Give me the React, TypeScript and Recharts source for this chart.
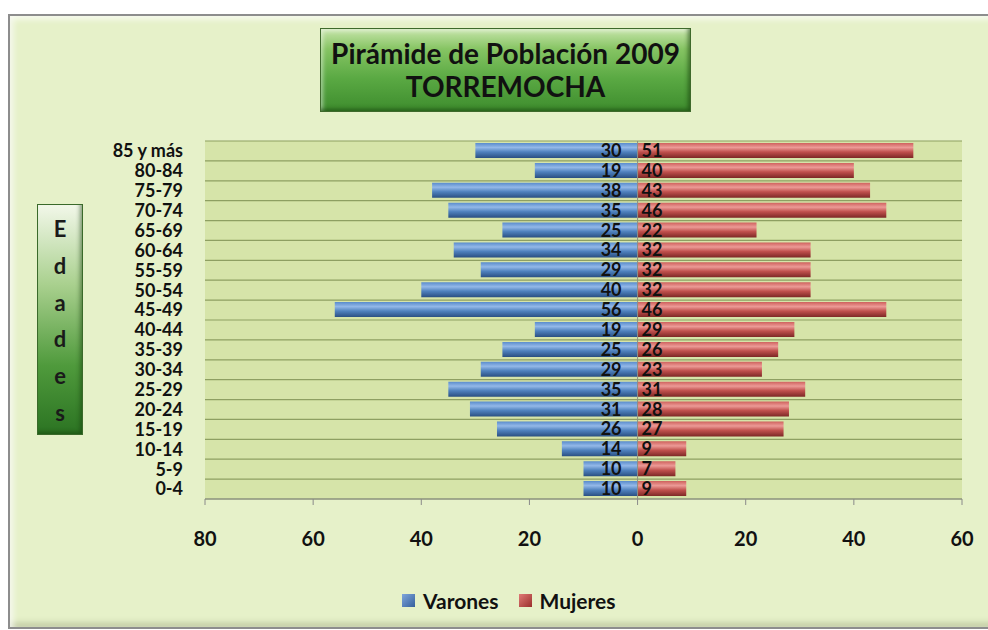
import { BarChart, Bar, XAxis, YAxis, CartesianGrid, LabelList, ReferenceLine } from "recharts";

const ageGroups = [
  "85 y más", "80-84", "75-79", "70-74", "65-69", "60-64", "55-59", "50-54", "45-49",
  "40-44", "35-39", "30-34", "25-29", "20-24", "15-19", "10-14", "5-9", "0-4",
];
const varones = [30, 19, 38, 35, 25, 34, 29, 40, 56, 19, 25, 29, 35, 31, 26, 14, 10, 10];
const mujeres = [51, 40, 43, 46, 22, 32, 32, 32, 46, 29, 26, 23, 31, 28, 27, 9, 7, 9];
const xTicks = [-80, -60, -40, -20, 0, 20, 40, 60];

const data = ageGroups.map((age, i) => ({ age, varones: -varones[i], mujeres: mujeres[i] }));

const FONT = "Lato, 'Open Sans', sans-serif";

const VaronLabel = (props: any) => {
  const { x, y, width, height, value } = props;
  const right = Math.max(x, x + width);
  return (
    <text x={right - 16} y={y + height / 2} dy="0.36em" textAnchor="end"
      fontFamily={FONT} fontWeight={700} fontSize={18} fill="#111">
      {Math.abs(value)}
    </text>
  );
};

const MujerLabel = (props: any) => {
  const { x, y, width, height, value } = props;
  const left = Math.min(x, x + width);
  return (
    <text x={left + 4} y={y + height / 2} dy="0.36em" textAnchor="start"
      fontFamily={FONT} fontWeight={700} fontSize={18} fill="#111">
      {value}
    </text>
  );
};

export default function App() {
  return (
    <div style={{ position: "absolute", left: 0, top: 0, width: 988, height: 630, background: "#fff", overflow: "hidden", fontFamily: FONT }}>
      <div style={{
        position: "absolute", left: 8, top: 14, width: 1000, height: 611,
        border: "2px solid #8d8d8d", background: "#e6f1c9",
        boxShadow: "inset 3px 3px 6px rgba(255,255,255,0.8), inset -2px -4px 6px rgba(120,130,90,0.35)",
      }} />

      <div style={{
        position: "absolute", left: 320, top: 28, width: 371, height: 84,
        background: "linear-gradient(to bottom, #c9e6ad 0%, #86c463 25%, #5aa943 60%, #3d8c2d 100%)",
        boxShadow: "inset 0 0 0 1px #3f6a2c, inset -3px -3px 4px rgba(20,60,10,0.6), inset 3px 3px 4px rgba(255,255,255,0.5)",
        textAlign: "center", fontWeight: 700, fontSize: 28, lineHeight: "33px", color: "#111",
        paddingTop: 9, boxSizing: "border-box", whiteSpace: "nowrap",
      }}>
        <div>Pirámide de Población 2009</div>
        <div>TORREMOCHA</div>
      </div>

      <div style={{
        position: "absolute", left: 37, top: 204, width: 46, height: 231,
        background: "linear-gradient(to bottom, #f3f8ea 0%, #a9d08e 35%, #4f9a3c 70%, #2b7322 100%)",
        boxShadow: "inset 0 0 0 1px #3a6a2a, inset -3px -3px 4px rgba(20,60,10,0.5)",
        display: "flex", flexDirection: "column", alignItems: "center", justifyContent: "space-around",
        fontWeight: 700, fontSize: 22, color: "#1a1a1a", paddingTop: 6, paddingBottom: 4, boxSizing: "border-box",
      }}>
        {["E", "d", "a", "d", "e", "s"].map((c, i) => (
          <span key={i}>{c}</span>
        ))}
      </div>

      <div style={{ position: "absolute", left: 0, top: 0 }}>
        <BarChart width={988} height={630} data={data} layout="vertical" stackOffset="sign"
          margin={{ top: 141, right: 26, bottom: 81, left: 0 }} barSize={15}>
          <defs>
            <linearGradient id="gradVarones" x1="0" y1="0" x2="0" y2="1">
              <stop offset="0%" stopColor="#5a8ccc" />
              <stop offset="30%" stopColor="#93b8e8" />
              <stop offset="60%" stopColor="#4f81bd" />
              <stop offset="100%" stopColor="#2a4f82" />
            </linearGradient>
            <linearGradient id="gradMujeres" x1="0" y1="0" x2="0" y2="1">
              <stop offset="0%" stopColor="#cf625e" />
              <stop offset="30%" stopColor="#ec9a96" />
              <stop offset="60%" stopColor="#c0504d" />
              <stop offset="100%" stopColor="#7d2826" />
            </linearGradient>
          </defs>
          <CartesianGrid
            vertical={false}
            fill="#d6e4a9"
            stroke="#8e9f62"
            strokeWidth={1.2}
            horizontalCoordinatesGenerator={({ offset }: any) =>
              ageGroups.map((_, i) => offset.top + (i * offset.height) / ageGroups.length).concat(offset.top + offset.height)
            }
          />
          <XAxis type="number" domain={[-80, 60]} ticks={xTicks} allowDataOverflow
            tickFormatter={(v: number) => String(Math.abs(v))}
            stroke="#8a8a8a" tickSize={6} tickMargin={27} height={50}
            tick={{ fill: "#111", fontSize: 20, fontWeight: 700, fontFamily: FONT }} />
          <YAxis type="category" dataKey="age" width={205} axisLine={false} tickLine={false}
            tickSize={0} tickMargin={22} interval={0}
            tick={{ fill: "#111", fontSize: 18, fontWeight: 700, fontFamily: FONT }} />
          <ReferenceLine x={0} stroke="#8a8f85" />
          <Bar dataKey="varones" stackId="a" fill="url(#gradVarones)" isAnimationActive={false}>
            <LabelList dataKey="varones" content={VaronLabel} />
          </Bar>
          <Bar dataKey="mujeres" stackId="a" fill="url(#gradMujeres)" isAnimationActive={false}>
            <LabelList dataKey="mujeres" content={MujerLabel} />
          </Bar>
        </BarChart>
      </div>

      <div style={{
        position: "absolute", left: 402, top: 588, display: "flex", alignItems: "center",
        fontWeight: 700, fontSize: 21, color: "#111",
      }}>
        <span style={{ width: 13, height: 13, background: "linear-gradient(135deg,#7fa6dc,#35609c)", marginRight: 8 }} />
        <span style={{ marginRight: 20 }}>Varones</span>
        <span style={{ width: 13, height: 13, background: "linear-gradient(135deg,#e07a76,#9a2f2c)", marginRight: 8 }} />
        <span>Mujeres</span>
      </div>
    </div>
  );
}
